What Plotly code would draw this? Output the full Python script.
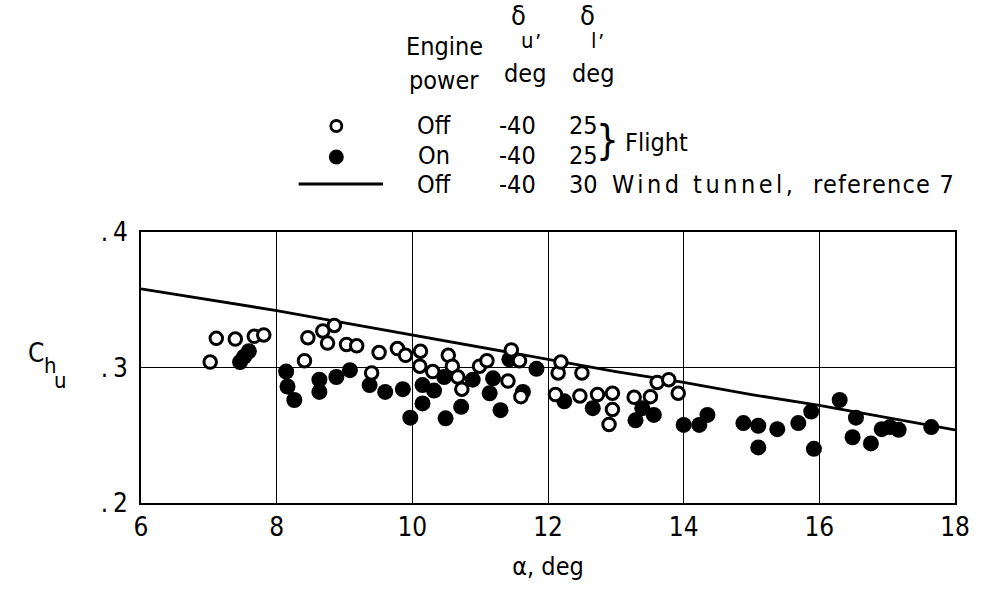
import plotly.graph_objects as go

# Flight data, engine power off (open symbols)
alpha_off = [7.02, 7.11, 7.39, 7.67, 7.81, 8.41, 8.46, 8.68, 8.75, 8.85, 9.03, 9.18,
             9.40, 9.51, 9.78, 9.90, 10.11, 10.12, 10.30, 10.53, 10.59, 10.67, 10.73,
             10.99, 11.10, 11.41, 11.46, 11.58, 11.60, 12.11, 12.15, 12.19, 12.47,
             12.50, 12.73, 12.90, 12.95, 12.95, 13.27, 13.51, 13.61, 13.78, 13.92]
chu_off = [0.304, 0.3215, 0.321, 0.323, 0.324, 0.305, 0.322, 0.327, 0.318, 0.331,
           0.317, 0.316, 0.296, 0.311, 0.314, 0.309, 0.301, 0.312, 0.297, 0.309,
           0.301, 0.293, 0.284, 0.301, 0.305, 0.290, 0.313, 0.305, 0.2785, 0.280,
           0.296, 0.304, 0.279, 0.296, 0.280, 0.258, 0.281, 0.269, 0.278, 0.2785,
           0.289, 0.291, 0.281]

# Flight data, engine power on (filled symbols)
alpha_on = [7.46, 7.52, 7.59, 8.14, 8.16, 8.26, 8.63, 8.63, 8.88, 9.08, 9.37, 9.60,
            9.86, 9.97, 10.15, 10.15, 10.32, 10.47, 10.49, 10.72, 10.89, 11.14, 11.19,
            11.30, 11.43, 11.63, 11.83, 12.24, 12.66, 13.29, 13.39, 13.56, 14.00,
            14.23, 14.35, 14.88, 15.10, 15.10, 15.38, 15.69, 15.88, 15.92, 16.30,
            16.49, 16.54, 16.76, 16.92, 17.04, 17.17, 17.65]
chu_on = [0.304, 0.308, 0.312, 0.297, 0.286, 0.276, 0.291, 0.282, 0.293, 0.298,
          0.287, 0.282, 0.284, 0.263, 0.287, 0.2735, 0.283, 0.293, 0.2625, 0.271,
          0.291, 0.281, 0.292, 0.2685, 0.306, 0.282, 0.299, 0.275, 0.270, 0.261,
          0.270, 0.265, 0.2576, 0.2576, 0.265, 0.259, 0.257, 0.241, 0.2545, 0.259,
          0.2675, 0.240, 0.276, 0.2485, 0.263, 0.244, 0.2545, 0.256, 0.254, 0.256]

# Wind tunnel, reference 7
alpha_wt = [6, 7, 8, 9, 10, 11, 12, 13, 14, 15, 16, 17, 18]
chu_wt = [0.358, 0.350, 0.342, 0.333, 0.324, 0.315, 0.306, 0.297, 0.289, 0.280,
          0.272, 0.263, 0.254]

x_ticks = [6, 8, 10, 12, 14, 16, 18]
y_ticks = [0.2, 0.3, 0.4]
y_ticktext = [".\u20092", ".\u20093", ".\u20094"]

FONT = "DejaVu Sans Condensed, DejaVu Sans, sans-serif"
W, H = 982, 591
L, R, T, B = 141, 20, 232, 88
PW, PH = W - L - R, H - T - B


def px(x):
    return (x - L) / PW


def py(y):
    return (H - B - y) / PH


fig = go.Figure()

fig.add_trace(go.Scatter(
    x=alpha_wt, y=chu_wt, mode="lines",
    line=dict(color="black", width=2.8), showlegend=False, hoverinfo="skip"))

fig.add_trace(go.Scatter(
    x=alpha_on, y=chu_on, mode="markers",
    marker=dict(symbol="circle", size=16, color="black",
                line=dict(color="black", width=0)),
    showlegend=False))

fig.add_trace(go.Scatter(
    x=alpha_off, y=chu_off, mode="markers",
    marker=dict(symbol="circle", size=12.5, color="white",
                line=dict(color="black", width=3)),
    showlegend=False))

axis_common = dict(
    showline=True, linecolor="black", linewidth=2, mirror=True,
    showgrid=True, gridcolor="black", gridwidth=1.4,
    zeroline=False, ticks="",
    tickfont=dict(family=FONT, size=26, color="black"),
)

fig.update_xaxes(range=[6, 18], tickvals=x_ticks, ticktext=[str(v) for v in x_ticks],
                 title=dict(text="α, deg", font=dict(family=FONT, size=25, color="black"),
                            standoff=16),
                 **axis_common)
fig.update_yaxes(range=[0.2, 0.4], tickvals=y_ticks, ticktext=y_ticktext,
                 ticklabelstandoff=6, **axis_common)

annotations = []


def txt(s, x, y, size=25, xanchor="center"):
    annotations.append(dict(
        text=s, x=px(x), y=py(y), xref="paper", yref="paper",
        xanchor=xanchor, yanchor="middle", showarrow=False,
        font=dict(family=FONT, size=size, color="black")))


# y-axis title C_h_u
txt("C", 35, 353, size=26)
txt("h", 50, 365, size=22)
txt("u", 60, 380, size=22)

# legend column headers
txt("Engine", 447, 47)
txt("power", 447, 80)
txt("δ", 522, 16, size=27)
txt("u", 531, 40, size=22)
txt("’", 541, 42, size=22)
txt("deg", 528, 73)
txt("δ", 591, 16, size=27)
txt("l", 598, 40, size=22)
txt("’", 605, 42, size=22)
txt("deg", 597, 73)

# legend rows
rows_power = ["Off", "On", "Off"]
rows_du = ["-40", "-40", "-40"]
rows_dl = ["25", "25", "30"]
row_y = [126, 155, 184]
for p, du, dl, yy in zip(rows_power, rows_du, rows_dl, row_y):
    txt(p, 437, yy)
    txt(du, 521, yy)
    txt(dl, 587, yy)

txt("}", 612, 140, size=40)
txt("Flight", 627, 142, xanchor="left")
txt('<span style="letter-spacing:3.5px">Wind tunnel,</span>', 614, 184, xanchor="left")
txt('<span style="letter-spacing:1.2px">reference 7</span>', 964, 184, xanchor="right")

shapes = [
    dict(type="circle", xref="paper", yref="paper", xsizemode="pixel",
         ysizemode="pixel", xanchor=px(338), yanchor=py(126),
         x0=-5.5, x1=5.5, y0=-5.5, y1=5.5,
         line=dict(color="black", width=2.8), fillcolor="white"),
    dict(type="circle", xref="paper", yref="paper", xsizemode="pixel",
         ysizemode="pixel", xanchor=px(338), yanchor=py(157),
         x0=-7.5, x1=7.5, y0=-7.5, y1=7.5,
         line=dict(color="black", width=0), fillcolor="black"),
    dict(type="line", xref="paper", yref="paper", x0=px(300), x1=px(385),
         y0=py(184), y1=py(184), line=dict(color="black", width=2.8)),
]

fig.update_layout(
    width=W, height=H,
    margin=dict(l=L, r=R, t=T, b=B),
    paper_bgcolor="white", plot_bgcolor="white",
    font=dict(family=FONT, color="black"),
    annotations=annotations, shapes=shapes,
    showlegend=False,
)

fig.write_html("out.html")
